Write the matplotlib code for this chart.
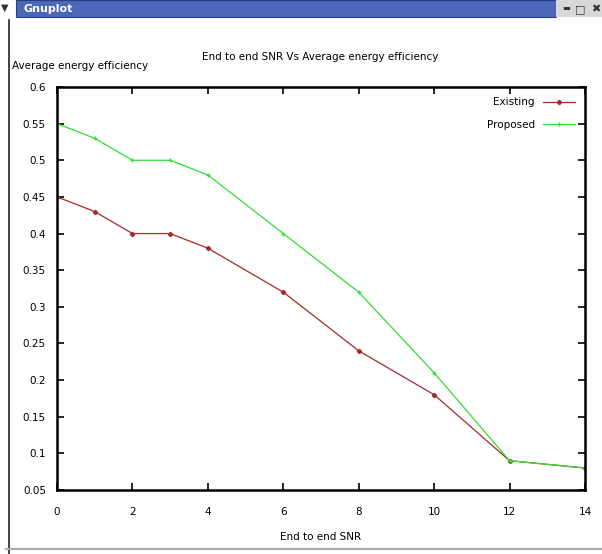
import matplotlib
matplotlib.use("Agg")
import matplotlib.pyplot as plt
from matplotlib.patches import Rectangle
from matplotlib.lines import Line2D

snr = [0, 1, 2, 3, 4, 6, 8, 10, 12, 14]
existing = [0.45, 0.43, 0.40, 0.40, 0.38, 0.32, 0.24, 0.18, 0.09, 0.08]
proposed = [0.55, 0.53, 0.50, 0.50, 0.48, 0.40, 0.32, 0.21, 0.09, 0.08]
xticks = [0, 2, 4, 6, 8, 10, 12, 14]
yticks = [0.05, 0.1, 0.15, 0.2, 0.25, 0.3, 0.35, 0.4, 0.45, 0.5, 0.55, 0.6]
ytick_labels = ["0.05", "0.1", "0.15", "0.2", "0.25", "0.3", "0.35", "0.4",
                "0.45", "0.5", "0.55", "0.6"]

plt.rcParams['font.family'] = ['DejaVu Sans']
W, H = 602, 554
fig = plt.figure(figsize=(W / 100, H / 100), dpi=100)
fig.patch.set_facecolor('white')

def fx(px):
    return px / W

def fy(py):
    return 1 - py / H

# window decorations
fig.add_artist(Rectangle((fx(16), fy(17)), fx(540), 17 / H, transform=fig.transFigure,
                         facecolor='#4a67b8', edgecolor='#2a3f80', lw=0.8))
fig.add_artist(Rectangle((fx(556), fy(17)), fx(46), 17 / H, transform=fig.transFigure,
                         facecolor='#d8d8d8', edgecolor='none'))
fig.text(fx(24), fy(9), "Gnuplot", color='white', fontsize=8, fontweight='bold',
         va='center', ha='left')
fig.text(fx(5), fy(8), "\u25BC", color='#333333', fontsize=7, va='center', ha='center')
fig.text(fx(566), fy(9), "\u25AC", color='#333333', fontsize=6, va='center', ha='center')
fig.text(fx(580), fy(9), "\u25A1", color='#333333', fontsize=8, va='center', ha='center')
fig.text(fx(596), fy(9), "\u2716", color='#333333', fontsize=8, va='center', ha='center')
fig.add_artist(Line2D([fx(9), fx(9)], [fy(20), fy(554)], transform=fig.transFigure,
                      color='#222222', lw=1.2))
fig.add_artist(Line2D([fx(6), fx(602)], [fy(549), fy(549)], transform=fig.transFigure,
                      color='#aaaaaa', lw=1.5))

ax = fig.add_axes([fx(57), fy(490), fx(585) - fx(57), (490 - 87) / H])
ax.plot(snr, existing, color='#a52a2a', lw=0.9, marker='D', ms=2.2,
        label='Existing')
ax.plot(snr, proposed, color='#33dd33', lw=0.9, marker='+', ms=3.5, mew=0.9,
        label='Proposed')
ax.set_xlim(0, 14)
ax.set_ylim(0.05, 0.6)
ax.set_xticks(xticks)
ax.set_yticks(yticks)
ax.set_yticklabels(ytick_labels)
ax.tick_params(direction='in', length=5, width=1.2, top=True, right=True,
               labelsize=7.5, colors='black', pad=8)
ax.tick_params(axis='x', pad=12)
for s in ax.spines.values():
    s.set_linewidth(1.8)

fig.text(fx(320), fy(57), "End to end SNR Vs Average energy efficiency",
         fontsize=7.5, ha='center', va='center')
fig.text(fx(12), fy(66), "Average energy efficiency", fontsize=7.5,
         ha='left', va='center')
fig.text(fx(321), fy(537), "End to end SNR", fontsize=7.5, ha='center', va='center')

ax.legend(loc='upper right', frameon=False, markerfirst=False, fontsize=7.5,
          handlelength=3, labelspacing=1.2, borderaxespad=0.6)

fig.savefig("out.png", dpi=100)
